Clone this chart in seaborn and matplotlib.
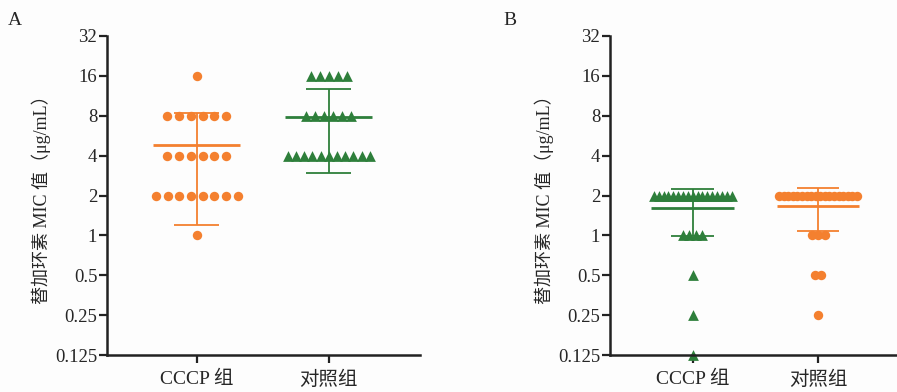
import numpy as np
import pandas as pd
import matplotlib
matplotlib.use('Agg')
import matplotlib.pyplot as plt
import seaborn as sns
from matplotlib.ticker import FixedLocator, FixedFormatter, NullLocator

# MIC levels (μg/mL) and number of isolates at each level
a_cccp_levels = [16, 8, 4, 2, 1]
a_cccp_counts = [1, 6, 6, 8, 1]
a_ctrl_levels = [16, 8, 4]
a_ctrl_counts = [5, 6, 11]
b_cccp_levels = [2, 1, 0.5, 0.25, 0.125]
b_cccp_counts = [17, 4, 1, 1, 1]
b_ctrl_levels = [2, 1, 0.5, 0.25]
b_ctrl_counts = [18, 3, 2, 1]

groups = ['CCCP 组', '对照组']
yticks = [0.125, 0.25, 0.5, 1, 2, 4, 8, 16, 32]
ytick_labels = ['0.125', '0.25', '0.5', '1', '2', '4', '8', '16', '32']
ylabel = '替加环素 MIC 值（μg/mL）'

ORANGE = '#f4802f'
GREEN = '#2e7f3b'

sns.set_theme(style='ticks')
plt.rcParams['font.family'] = ['Liberation Serif', 'Noto Sans CJK SC']
plt.rcParams['axes.unicode_minus'] = False


def row_offsets(n, step, half_width):
    if n == 1:
        return np.zeros(1)
    span = min((n - 1) * step, 2 * half_width)
    return np.linspace(-span / 2, span / 2, n)


def build(levels, counts, pos, step, half_width):
    xs, ys = [], []
    for lv, c in zip(levels, counts):
        xs.extend(pos + row_offsets(c, step, half_width))
        ys.extend([lv] * c)
    return pd.DataFrame({'x': xs, 'mic': ys})


def draw_panel(ax, series, letter, letter_x, xlim):
    for i, (levels, counts, color, marker, size, step) in enumerate(series):
        df = build(levels, counts, i, step, 0.31)
        sns.scatterplot(data=df, x='x', y='mic', ax=ax, color=color, marker=marker,
                        s=size, linewidth=0, clip_on=False, zorder=2, legend=False)
        vals = np.repeat(levels, counts)
        m, sd = vals.mean(), vals.std(ddof=1)
        ax.hlines(m, i - 0.33, i + 0.33, color=color, lw=2.0, zorder=3)
        ax.vlines(i, m - sd, m + sd, color=color, lw=1.3, zorder=3)
        ax.hlines([m - sd, m + sd], i - 0.17, i + 0.17, color=color, lw=1.3, zorder=3)

    ax.set_yscale('log', base=2)
    ax.set_ylim(0.125, 32)
    ax.set_xlim(*xlim)
    ax.yaxis.set_major_locator(FixedLocator(yticks))
    ax.yaxis.set_major_formatter(FixedFormatter(ytick_labels))
    ax.yaxis.set_minor_locator(NullLocator())
    ax.set_xticks([0, 1])
    ax.set_xticklabels(groups, fontsize=14)
    ax.tick_params(axis='y', labelsize=13.5, length=6, width=1.6, pad=1, color='#222222')
    ax.tick_params(axis='x', length=6, width=1.6, pad=5, color='#222222')
    for s in ['left', 'bottom']:
        ax.spines[s].set_linewidth(1.8)
        ax.spines[s].set_color('#222222')
    ax.spines[['top', 'right']].set_visible(False)
    ax.set_xlabel('')
    ax.set_ylabel(ylabel, fontsize=13, labelpad=3)
    ax.text(letter_x, 1.05, letter, transform=ax.transAxes, fontsize=14, va='center', ha='left')


fig = plt.figure(figsize=(8.97, 3.92), dpi=100)
fig.patch.set_facecolor('#fdfdfd')
axA = fig.add_axes([107 / 897, 37 / 392, 313 / 897, 319 / 392])
axB = fig.add_axes([610 / 897, 37 / 392, 287 / 897, 319 / 392])
for a in (axA, axB):
    a.set_facecolor('none')

draw_panel(axA, [
    (a_cccp_levels, a_cccp_counts, ORANGE, 'o', 46, 0.089),
    (a_ctrl_levels, a_ctrl_counts, GREEN, '^', 60, 0.068),
], 'A', -0.316, (-0.68, 1.69))

draw_panel(axB, [
    (b_cccp_levels, b_cccp_counts, GREEN, '^', 60, 0.052),
    (b_ctrl_levels, b_ctrl_counts, ORANGE, 'o', 46, 0.052),
], 'B', -0.373, (-0.66, 1.63))

fig.savefig('out.png', dpi=100, facecolor=fig.get_facecolor())
